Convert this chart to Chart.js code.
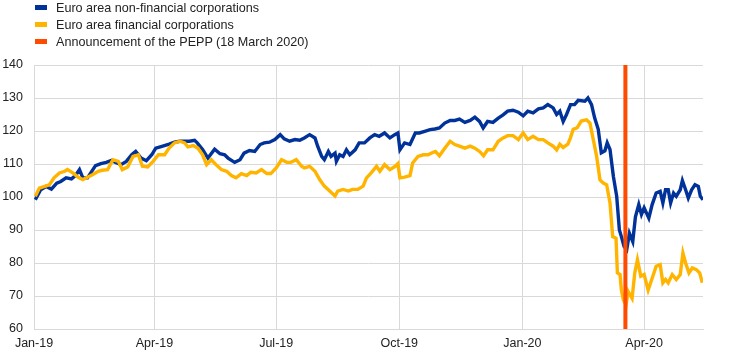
<!DOCTYPE html>
<html>
<head>
<meta charset="utf-8">
<script src="https://cdn.jsdelivr.net/npm/chart.js@4"></script>
<style>
  html, body { margin: 0; padding: 0; background: #fff; }
  #wrap { position: relative; width: 742px; height: 354px; font-family: "Liberation Sans", Arial, sans-serif; }
  #legend { position: absolute; left: 35px; top: -1px; font-size: 12.6px; color: #222; }
  .item { height: 17px; display: flex; align-items: center; }
  .box { width: 12px; height: 5px; margin-right: 9px; }
</style>
</head>
<body>
<div id="wrap">
  <canvas id="chart" width="742" height="354"></canvas>
  <div id="legend"></div>
</div>
<script>
// x values are days since 1 January 2019
const tickDays = [0, 90, 181, 273, 365, 456];
const tickLabels = ['Jan-19', 'Apr-19', 'Jul-19', 'Oct-19', 'Jan-20', 'Apr-20'];
const yTicks = [60, 70, 80, 90, 100, 110, 120, 130, 140];
const peppDay = 442; // 18 March 2020

const seriesNames = ['Euro area non-financial corporations', 'Euro area financial corporations', 'Announcement of the PEPP (18 March 2020)'];

const nfcDays = [1, 5, 9, 13, 17, 20, 24, 28, 31, 34, 36.5, 40, 44, 46, 50, 54, 58, 61, 65, 69, 73, 76, 80, 84, 88, 91, 95,
  101, 105, 109, 112.6, 116, 120, 122, 126, 130, 135, 139, 142.5, 145, 150, 154, 157, 161, 165, 169, 172, 176, 180, 184, 187, 191, 195, 198.6,
  202, 206, 210, 212, 215, 217, 220, 222, 225, 226, 228.5, 231, 233.5, 236, 240, 243, 247, 251, 254.6, 258, 262, 266, 269.6, 272, 273.5, 277, 281, 285, 288, 292, 296, 299.6,
  303, 307, 311, 314.5, 318, 322, 326, 329.5, 333, 335.7, 339, 343, 347, 350.6, 354, 358, 362, 365.6, 369, 373, 377, 380.6, 384, 388, 390.6, 393, 395.5, 398, 401,
  404, 406.7, 411.7, 414, 416.7, 419, 421.7, 424, 426.7, 428.4, 430.5, 433, 435.5, 437.5, 439, 441, 443, 445, 447.5, 449.5, 452, 454, 456, 459.5, 462, 465, 468, 470, 472, 474, 475.8, 478, 480, 483, 484.6, 487, 489, 491.5, 494, 496.5, 498, 500];
const nfcValues = [99.2, 102.2, 103.2, 102.4, 104.2, 104.7, 105.8, 105.5, 106.5, 108.3, 105.8, 105.8, 108.3, 109.5, 110.1, 110.5, 111.1, 110.5, 109.8, 110.8, 112.8, 113.8, 111.8, 111, 112.8, 114.8, 115.3,
  116, 116.6, 116.9, 116.9, 116.9, 117.2, 116.4, 114.4, 111.8, 114.5, 113.1, 112.8, 111.8, 110.5, 111.3, 113.3, 114.1, 113.8, 115.9, 116.4, 116.6, 117.4, 118.9, 117.6, 116.9, 117.4, 117.2,
  117.9, 118.9, 117.9, 115.4, 112.3, 111.3, 113.8, 112.3, 113.3, 110.8, 112.8, 112.3, 114.3, 112.8, 114.3, 116.4, 116.4, 117.9, 118.9, 118.4, 119.4, 117.9, 118.9, 119.4, 114.3, 116.4, 115.9, 119.4, 119.4, 119.9, 120.4, 120.6,
  120.9, 122.4, 123.2, 123.2, 123.6, 122.6, 123.2, 124.2, 122.9, 120.9, 122.9, 122.6, 123.9, 124.9, 126, 126.3, 125.7, 124.6, 126, 125.5, 126.7, 127, 128, 127, 125, 126, 122.9, 125, 128,
  128, 129.3, 129, 130, 128, 124, 120.5, 113.4, 114, 116.4, 114.4, 106.3, 100.2, 90, 88, 85, 84, 89, 86.5, 94, 97.7, 94.7, 96.7, 93.6, 97.7, 101.2, 101.7, 98.2, 102.2, 102.2, 98.2, 101.2, 100.2, 102.2, 105, 102.2, 99.7, 102.2, 103.7, 103.2, 100.2, 99.2];

const fcDays = [1, 4, 8, 11.5, 15, 19, 23, 25, 29, 33, 36.5, 40, 44, 48, 51, 55, 59, 63, 66, 70, 74, 78, 81, 85, 89, 93, 97.6,
  101, 105, 109, 112.6, 115, 119, 122.5, 126, 129, 132.5, 136, 140, 144, 147.5, 151, 155, 159, 162, 166, 170, 174, 177, 181, 185, 189, 192, 196, 200,
  202, 206, 210, 213.5, 217, 221, 225, 227, 231, 235, 238, 242, 246, 248.5, 252, 256, 258.5, 262, 266, 270, 272, 273.5, 277, 281, 283, 287, 291, 294.5, 298, 300,
  303, 307, 311, 314.5, 318, 322, 326, 329.5, 333, 336, 339, 343, 347, 350.6, 354, 358, 362, 365.6, 369, 373, 377, 380.6, 384, 388, 390.6, 393, 395.5, 399, 401,
  403, 406, 409, 413, 415.5, 418, 420.5, 423, 425.5, 428, 430.5, 432.5, 435, 436, 438, 439, 440.5, 442.5, 444, 447, 449, 451, 453.5, 456, 459, 462, 465, 468, 470, 472, 474, 477, 480, 483, 485, 487, 489.5, 492, 495, 497.5, 499.5];
const fcValues = [100.2, 102.7, 103.2, 103.7, 105.8, 107.3, 107.8, 108.3, 107.3, 106, 105.3, 106, 106.8, 107.8, 108.1, 108.3, 111.3, 110.8, 108.3, 109.1, 112.3, 112.8, 109.3, 109.1, 110.8, 112.8, 112.8,
  114.8, 116.4, 116.9, 116.4, 115.2, 115.6, 114.8, 112.8, 109.8, 111.3, 109.8, 108.3, 107.8, 106.5, 105.8, 107.1, 106.5, 107.5, 107.3, 108.3, 107.1, 107.1, 108.8, 111.3, 110.5, 110.5, 111.3, 109.3,
  108.8, 109.3, 107.8, 105.3, 103.3, 101.8, 100.3, 101.8, 102.3, 101.8, 102.3, 102.3, 103.3, 105.8, 107.3, 109.3, 107.8, 109.8, 108.3, 109.3, 110.1, 105.8, 106, 106.5, 110.3, 112.3, 112.8, 112.8, 113.5, 113.8,
  112.5, 114.8, 116.9, 115.9, 115.4, 114.8, 115.4, 114.8, 113.8, 112.5, 114.3, 114.3, 116.9, 117.9, 118.6, 118.6, 117.4, 119.4, 117.4, 118.4, 117.4, 117.4, 116.4, 115.4, 114.3, 116, 115, 116, 118,
  120.5, 121, 123, 123.4, 122.4, 117.4, 112.3, 105.2, 104.2, 103.7, 98.2, 88, 87.5, 77, 76.5, 71.8, 68.8, 67.3, 71.4, 69.3, 77, 81, 76, 76.5, 71.8, 75.4, 79, 79.5, 74, 75, 74, 76.5, 75, 76.5, 83, 80, 77, 78.5, 78, 77, 74];

const colors = ['#003299', '#ffb400', '#ff4b00'];

function toPoints(xs, ys) {
  return xs.map((x, i) => ({ x: x, y: ys[i] }));
}

const yMin = yTicks[0];
const yMax = yTicks[yTicks.length - 1];

// html legend, one entry per row
document.getElementById('legend').innerHTML = seriesNames.map((name, i) =>
  `<div class="item"><span class="box" style="background:${colors[i]}"></span>${name}</div>`).join('');

Chart.defaults.font.family = '"Liberation Sans", Arial, sans-serif';
Chart.defaults.font.size = 12.5;
Chart.defaults.color = '#222';

new Chart(document.getElementById('chart').getContext('2d'), {
  type: 'line',
  data: {
    datasets: [
      { label: seriesNames[0], data: toPoints(nfcDays, nfcValues), borderColor: colors[0], borderWidth: 3.4, pointRadius: 0, tension: 0, order: 3 },
      { label: seriesNames[1], data: toPoints(fcDays, fcValues), borderColor: colors[1], borderWidth: 3.4, pointRadius: 0, tension: 0, order: 2 },
      { label: seriesNames[2], data: [{ x: peppDay, y: yMin }, { x: peppDay, y: yMax }], borderColor: colors[2], borderWidth: 4, pointRadius: 0, order: 1 }
    ]
  },
  options: {
    responsive: false,
    animation: false,
    layout: { padding: { top: 65, right: 39, left: 0, bottom: 0 } },
    plugins: { legend: { display: false }, tooltip: { enabled: false } },
    scales: {
      x: {
        type: 'linear', min: 0, max: 500,
        afterBuildTicks: (scale) => { scale.ticks = tickDays.map(v => ({ value: v })); },
        afterFit: (scale) => { scale.height = 25; },
        ticks: { autoSkip: false, maxRotation: 0, padding: 7, callback: (v) => tickLabels[tickDays.indexOf(v)] },
        grid: { color: '#d9d9d9', lineWidth: 1, drawTicks: false },
        border: { color: '#d9d9d9' }
      },
      y: {
        min: yMin, max: yMax,
        afterBuildTicks: (scale) => { scale.ticks = yTicks.map(v => ({ value: v })); },
        afterFit: (scale) => { scale.width = 34; },
        ticks: { padding: 11 },
        grid: { color: '#d9d9d9', lineWidth: 1, drawTicks: false },
        border: { display: false }
      }
    }
  }
});
</script>
</body>
</html>
